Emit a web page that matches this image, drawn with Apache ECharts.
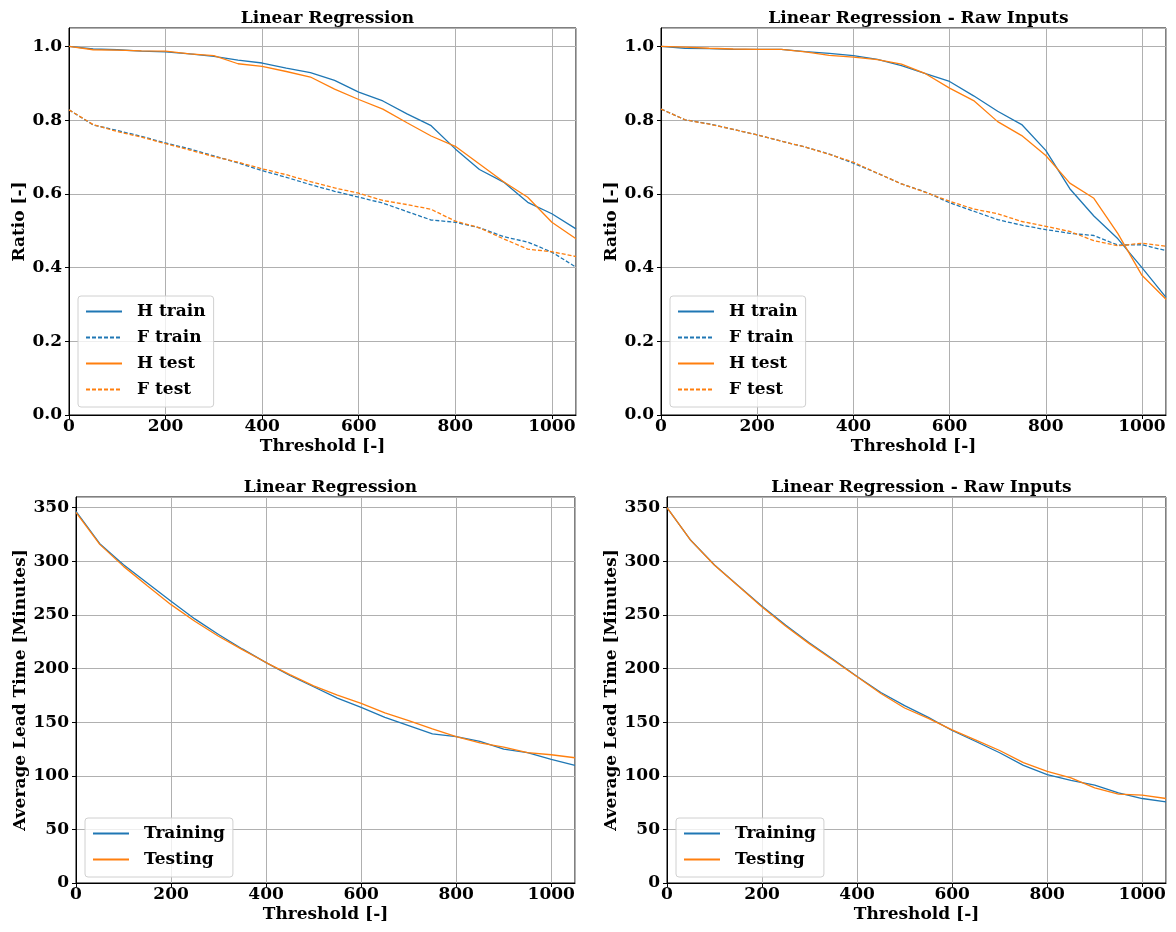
<!DOCTYPE html>
<html>
<head>
<meta charset="utf-8">
<script src="https://cdn.jsdelivr.net/npm/echarts@6/dist/echarts.min.js"></script>
<style>
  html, body { margin: 0; padding: 0; background: #fff; }
</style>
</head>
<body>
<div id="chart" style="width: 1176px;height: 932px;"></div>
<script>
  // thresholds (x axis of every panel)
  const thresholds = [0, 50, 100, 150, 200, 250, 300, 350, 400, 450, 500, 550, 600, 650, 700, 750, 800, 850, 900, 950, 1000, 1050];

  // Linear Regression - ratios
  const lrHTrain = [1.0, 0.993, 0.991, 0.987, 0.985, 0.980, 0.973, 0.963, 0.955, 0.941, 0.929, 0.908, 0.876, 0.852, 0.817, 0.785, 0.722, 0.666, 0.632, 0.577, 0.546, 0.505];
  const lrFTrain = [0.828, 0.787, 0.772, 0.756, 0.738, 0.722, 0.703, 0.684, 0.663, 0.645, 0.625, 0.607, 0.591, 0.575, 0.552, 0.529, 0.523, 0.508, 0.484, 0.469, 0.442, 0.401];
  const lrHTest = [1.0, 0.991, 0.990, 0.988, 0.987, 0.980, 0.975, 0.953, 0.946, 0.932, 0.917, 0.884, 0.856, 0.830, 0.793, 0.757, 0.729, 0.681, 0.633, 0.591, 0.523, 0.478];
  const lrFTest = [0.828, 0.788, 0.769, 0.754, 0.736, 0.719, 0.701, 0.686, 0.668, 0.652, 0.633, 0.616, 0.602, 0.582, 0.571, 0.558, 0.526, 0.508, 0.478, 0.450, 0.443, 0.430];

  // Linear Regression - Raw Inputs - ratios
  const rawHTrain = [1.0, 0.995, 0.994, 0.992, 0.992, 0.992, 0.986, 0.981, 0.975, 0.965, 0.948, 0.926, 0.905, 0.866, 0.824, 0.788, 0.718, 0.614, 0.540, 0.478, 0.400, 0.319];
  const rawFTrain = [0.830, 0.801, 0.790, 0.775, 0.760, 0.743, 0.727, 0.708, 0.683, 0.656, 0.627, 0.605, 0.576, 0.553, 0.530, 0.515, 0.503, 0.493, 0.487, 0.461, 0.462, 0.446];
  const rawHTest = [1.0, 0.998, 0.995, 0.993, 0.992, 0.992, 0.985, 0.976, 0.971, 0.964, 0.952, 0.926, 0.887, 0.853, 0.796, 0.758, 0.704, 0.629, 0.588, 0.492, 0.379, 0.314];
  const rawFTest = [0.830, 0.801, 0.789, 0.775, 0.760, 0.743, 0.727, 0.707, 0.686, 0.656, 0.627, 0.604, 0.580, 0.559, 0.546, 0.525, 0.512, 0.498, 0.473, 0.459, 0.466, 0.458];

  // average lead time [minutes]
  const lrLeadTrain = [346.6, 316.5, 296.9, 279.8, 262.7, 246.3, 231.7, 218.3, 205.5, 193.5, 183.0, 172.5, 163.8, 154.5, 146.8, 139.1, 136.6, 132.0, 124.9, 121.5, 115.3, 109.7];
  const lrLeadTest = [345.7, 315.8, 295.3, 277.3, 259.6, 244.1, 230.1, 217.7, 205.6, 194.4, 183.9, 175.3, 167.5, 158.6, 151.5, 143.7, 136.6, 130.7, 126.7, 121.5, 119.6, 116.8];
  const rawLeadTrain = [350.0, 319.6, 296.6, 277.3, 258.1, 240.4, 223.9, 208.4, 192.6, 177.7, 165.4, 154.5, 142.2, 132.0, 121.5, 109.7, 101.1, 95.8, 91.2, 84.0, 78.8, 75.7];
  const rawLeadTest = [350.0, 319.5, 296.3, 277.0, 257.5, 239.5, 223.0, 207.8, 192.3, 176.8, 163.2, 153.6, 142.8, 133.2, 123.6, 112.2, 104.1, 98.0, 88.7, 82.8, 81.9, 78.8];

  const titles = ['Linear Regression', 'Linear Regression - Raw Inputs', 'Linear Regression', 'Linear Regression - Raw Inputs'];
  const ratioLegend = ['H train', 'F train', 'H test', 'F test'];
  const leadLegend = ['Training', 'Testing'];

  const BLUE = '#1f77b4';
  const ORANGE = '#ff7f0e';
  const FONT = 'DejaVu Serif';

  const pairs = (ys) => thresholds.map((t, i) => [t, ys[i]]);

  // panel rectangles (px)
  const grids = [
    { left: 69, top: 28, width: 507, height: 387 },
    { left: 661, top: 28, width: 505, height: 387 },
    { left: 76, top: 497, width: 499, height: 386 },
    { left: 667, top: 497, width: 499, height: 386 }
  ];

  let myChart = echarts.init(document.getElementById('chart'));

  const labelStyle = { color: '#000', fontFamily: FONT, fontWeight: 'bold', fontSize: 17 };
  const gridLine = { show: true, lineStyle: { color: '#b0b0b0', width: 1 } };

  function xAxis(i) {
    return {
      type: 'value', gridIndex: i, min: 0, max: 1050, interval: 200,
      name: 'Threshold [-]', nameLocation: 'middle', nameGap: 23,
      nameTextStyle: labelStyle,
      axisLine: { show: true, onZero: false, lineStyle: { color: '#000', width: 1 } },
      axisTick: { show: true, inside: false, length: 4, lineStyle: { color: '#000' } },
      axisLabel: Object.assign({ margin: 3, showMaxLabel: false, formatter: v => String(v) }, labelStyle),
      splitLine: gridLine
    };
  }

  function yAxis(i, isRatio) {
    return {
      type: 'value', gridIndex: i, min: 0,
      max: isRatio ? 1.05 : 360, interval: isRatio ? 0.2 : 50,
      name: isRatio ? 'Ratio [-]' : 'Average Lead Time [Minutes]',
      nameLocation: 'middle', nameGap: isRatio ? 40 : 47,
      nameTextStyle: labelStyle,
      axisLine: { show: true, onZero: false, lineStyle: { color: '#000', width: 1 } },
      axisTick: { show: true, inside: false, length: 4, lineStyle: { color: '#000' } },
      axisLabel: Object.assign({
        margin: 7, showMaxLabel: false,
        formatter: v => isRatio ? v.toFixed(1) : String(v)
      }, labelStyle),
      splitLine: gridLine
    };
  }

  function line(name, i, ys, color, dashed) {
    return {
      name: name, type: 'line', xAxisIndex: i, yAxisIndex: i,
      data: pairs(ys), symbol: 'none', showSymbol: false, silent: true,
      lineStyle: { color: color, width: 1.3, type: dashed ? [4, 2] : 'solid' },
      itemStyle: { color: color }
    };
  }

  function legend(left, top, data) {
    return {
      orient: 'vertical', left: left, top: top, data: data,
      itemWidth: 36, itemHeight: 14, itemGap: 9,
      padding: [7, 8, 9, 7],
      borderColor: '#d0d0d0', borderWidth: 1, borderRadius: 3,
      backgroundColor: 'rgba(255,255,255,0.8)',
      // hide the marker dot, keep only the line sample
      itemStyle: { color: 'rgba(0,0,0,0)', borderWidth: 0 },
      textStyle: Object.assign({ padding: [0, 0, 0, 10] }, labelStyle),
      selectedMode: false
    };
  }

  myChart.setOption({
    backgroundColor: '#fff',
    animation: false,
    title: grids.map((g, i) => ({
      text: titles[i],
      left: g.left + g.width / 2, top: g.top - 23,
      textAlign: 'center',
      textStyle: { fontFamily: FONT, fontWeight: 'bold', fontSize: 17, color: '#000' }
    })),
    grid: grids.map(g => Object.assign({ show: true, borderColor: '#000', borderWidth: 1 }, g)),
    xAxis: [xAxis(0), xAxis(1), xAxis(2), xAxis(3)],
    yAxis: [yAxis(0, true), yAxis(1, true), yAxis(2, false), yAxis(3, false)],
    legend: [
      legend(78, 296, ratioLegend),
      legend(670, 296, ratioLegend),
      legend(85, 818, leadLegend),
      legend(676, 818, leadLegend)
    ],
    series: [
      line('H train', 0, lrHTrain, BLUE, false),
      line('F train', 0, lrFTrain, BLUE, true),
      line('H test', 0, lrHTest, ORANGE, false),
      line('F test', 0, lrFTest, ORANGE, true),
      line('H train', 1, rawHTrain, BLUE, false),
      line('F train', 1, rawFTrain, BLUE, true),
      line('H test', 1, rawHTest, ORANGE, false),
      line('F test', 1, rawFTest, ORANGE, true),
      line('Training', 2, lrLeadTrain, BLUE, false),
      line('Testing', 2, lrLeadTest, ORANGE, false),
      line('Training', 3, rawLeadTrain, BLUE, false),
      line('Testing', 3, rawLeadTest, ORANGE, false)
    ]
  });
</script>
</body>
</html>
